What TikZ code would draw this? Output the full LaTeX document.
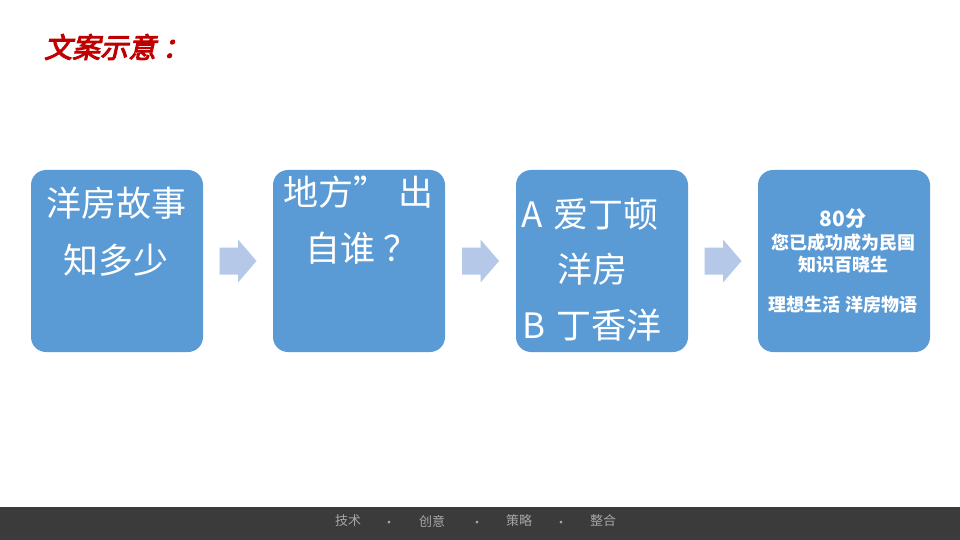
\documentclass[tikz,border=0pt]{standalone}
\usepackage{fontspec}
\setmainfont{Noto Sans CJK SC}
\newfontfamily\titlefont[FakeSlant=0.22,FakeBold=3.5]{Noto Sans CJK SC}
\usetikzlibrary{calc}
\definecolor{boxblue}{HTML}{5B9BD5}
\definecolor{arrowblue}{HTML}{B5C8E8}
\definecolor{titlered}{HTML}{C00000}
\definecolor{bardark}{HTML}{3B3B3B}
\definecolor{bargray}{HTML}{A6A6A6}

\begin{document}
\begin{tikzpicture}[x=1pt,y=-1pt,
		box/.style={fill=boxblue, rounded corners=15pt, minimum width=172pt, minimum height=182pt, inner sep=0pt},
		boxtext/.style={text=white, font=\fontsize{35}{35}\selectfont, inner sep=0pt},
		scoretext/.style={text=white, font=\bfseries\fontsize{18}{18}\selectfont, inner sep=0pt},
		bartext/.style={text=bargray, font=\fontsize{13}{13}\selectfont, inner sep=0pt}]
		\useasboundingbox (0,0) rectangle (960,540);
		\fill[white] (0,0) rectangle (960,540);
		\fill[bardark] (0,507) rectangle (960,540);
	
		\node[text=titlered, font=\titlefont\fontsize{28}{28}\selectfont, inner sep=0pt, anchor=west] (title) at (44,47) {文案示意\hspace{6pt}：};
	
		\foreach \x/\name in {117/story, 359/origin, 602/answer, 844/score}{	
			\node[box] (\name) at (\x,261) {};
		}
	
		% block arrows between the boxes
		\foreach \a/\b in {story/origin, origin/answer, answer/score}{	
			\coordinate (arrow-\a) at ($(\a.east)!0.5!(\b.west)$);
			\fill[arrowblue] (arrow-\a) ++(-18.5,-13.5) -- ++(18.5,0) -- ++(0,-8) -- ++(18.5,21.5)
				-- ++(-18.5,21.5) -- ++(0,-8) -- ++(-18.5,0) -- cycle;
		}
	
		\node[boxtext] (storyA) at (116,203) {洋房故事};
		\node[boxtext] (storyB) at (116,260) {知多少};
	
		\node[boxtext, anchor=west] (originA) at (283,192) {地方”\hspace{10pt}出};
		\node[boxtext, anchor=west] (originB) at (305,248) {自谁\hspace{8pt}？};
	
		\node[boxtext, anchor=west] (answerA) at (521,214) {A\hspace{3pt} 爱丁顿};
		\node[boxtext] (answerB) at (592,269) {洋房};
		\node[boxtext, anchor=west] (answerC) at (522,325) {B\hspace{3pt} 丁香洋};
	
		\node[scoretext, font=\bfseries\fontsize{21}{21}\selectfont] (scoreA) at (843,219) {80分};
		\node[scoretext] (scoreB) at (843,243) {您已成功成为民国};
		\node[scoretext] (scoreC) at (843,265) {知识百晓生};
		\node[scoretext] (scoreD) at (843,305) {理想生活 洋房物语};
	
		\foreach \x/\word/\name in {348/技术/tech, 432/创意/idea, 519/策略/plan, 603/整合/merge}{	
			\node[bartext] (\name) at (\x,521) {\word};
		}
		\foreach \x/\name in {389/dotA, 477/dotB, 561/dotC}{	
			\node[bartext] (\name) at (\x,524) {·};
		}
	\end{tikzpicture}
\end{document}
